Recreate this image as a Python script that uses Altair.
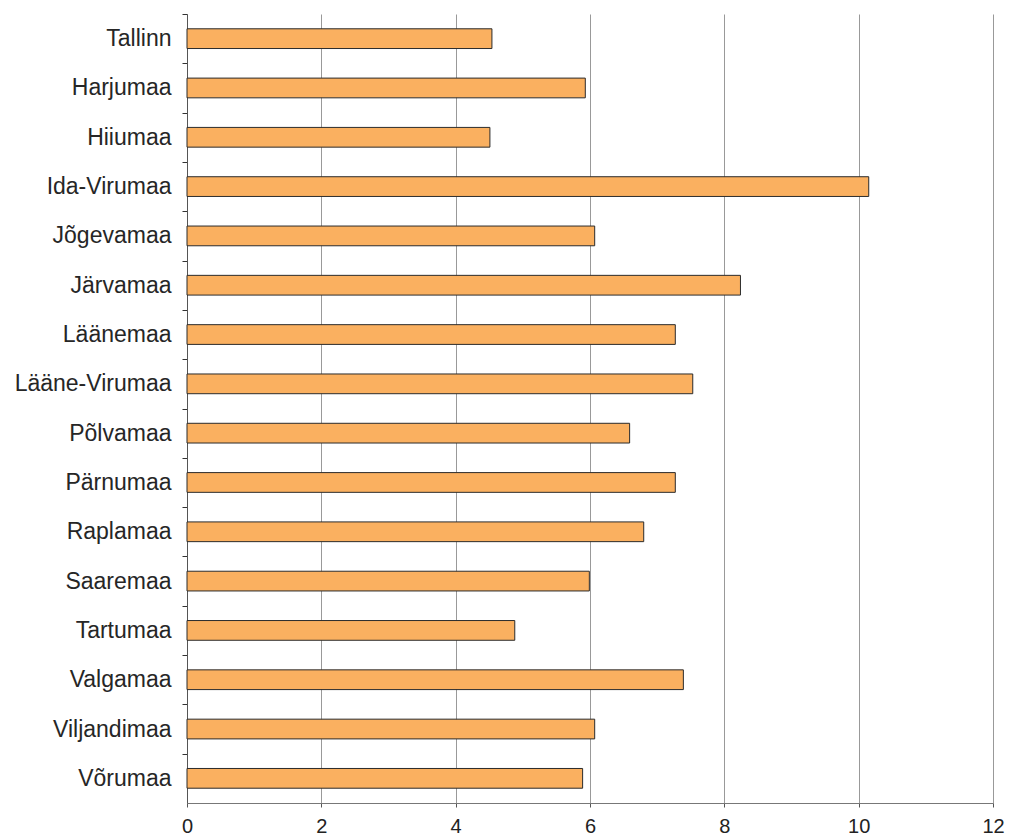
import altair as alt
import pandas as pd

# Counties (top to bottom) and their values
counties = [
    "Tallinn", "Harjumaa", "Hiiumaa", "Ida-Virumaa", "Jõgevamaa", "Järvamaa",
    "Läänemaa", "Lääne-Virumaa", "Põlvamaa", "Pärnumaa", "Raplamaa",
    "Saaremaa", "Tartumaa", "Valgamaa", "Viljandimaa", "Võrumaa",
]
values = [
    4.54, 5.93, 4.51, 10.15, 6.07, 8.24,
    7.27, 7.53, 6.59, 7.27, 6.80,
    5.99, 4.88, 7.39, 6.07, 5.89,
]
x_ticks = [0, 2, 4, 6, 8, 10, 12]

PLOT_W = 806
PLOT_H = 789
# half of one category step: moves ticks to the boundaries between categories
half_step = PLOT_H / len(counties) / 2

df = pd.DataFrame({"county": counties, "value": values})

bars = alt.Chart(df).mark_bar(
    color="#FAB060",
    stroke="#2b2b2b",
    strokeWidth=1,
).encode(
    y=alt.Y(
        "county:N",
        sort=counties,
        title=None,
        scale=alt.Scale(paddingInner=0.6, paddingOuter=0.3),
        axis=alt.Axis(
            tickOffset=-half_step,
            labelOffset=half_step,
            tickSize=5,
            tickColor="#333333",
            domainColor="#555555",
            labelFont="Liberation Sans",
            labelFontSize=23,
            labelColor="#262626",
            labelPadding=11,
            grid=False,
        ),
    ),
    x=alt.X(
        "value:Q",
        title=None,
        scale=alt.Scale(domain=[0, 12], nice=False),
        axis=alt.Axis(
            values=x_ticks,
            grid=True,
            gridColor="#999999",
            gridWidth=1,
            tickSize=4,
            tickColor="#555555",
            domainColor="#777777",
            labelFont="Liberation Sans",
            labelFontSize=20,
            labelColor="#222222",
            labelPadding=9,
            labelFlush=False,
        ),
    ),
)

chart = bars.properties(
    width=PLOT_W,
    height=PLOT_H,
    autosize=alt.AutoSizeParams(type="none"),
    padding={"left": 187, "top": 14, "right": 16, "bottom": 36},
).configure(
    background="white",
).configure_view(
    stroke=None,
)

chart.save("out.html", embed_options={"renderer": "svg", "actions": False})
